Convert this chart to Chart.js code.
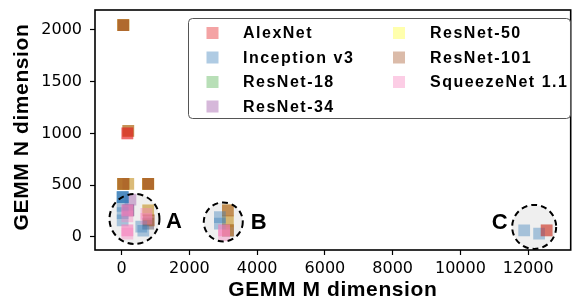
<!DOCTYPE html>
<html><head><meta charset="utf-8">
<script src="https://cdn.jsdelivr.net/npm/chart.js@4.4.1/dist/chart.umd.min.js"></script>
<style>html,body{margin:0;padding:0;background:#fff}#wrap{width:579px;height:304px}</style>
</head><body><div id="wrap"><canvas id="c" width="579" height="304"></canvas></div>
<script>
// ---------- data ----------
const networks = ['AlexNet','Inception v3','ResNet-18','ResNet-34','ResNet-50','ResNet-101','SqueezeNet 1.1'];
const xTicks = [0,2000,4000,6000,8000,10000,12000];
const yTicks = [0,500,1000,1500,2000];

const alexnetM = [169,169,12544];
const alexnetN = [1000,1000,64];

const inceptionM = [30,30,30,30,30,30,30,580,640,2900,2900,11881,12321];
const inceptionN = [384,384,384,384,300,230,160,100,60,192,128,64,32];

const resnet18M = [49,49,196,784,3136,3136];
const resnet18N = [512,512,256,128,64,64];

const resnet34M = [49,49,49,196,196,260,784,3136,3136,3136];
const resnet34N = [512,512,512,256,256,360,128,64,64,64];

const resnet50M = [49,49,49,196,196,49,49,49,784,784,784,784,784,3136,3136,3136];
const resnet50N = [2048,2048,2048,1024,512,512,512,512,512,512,512,512,256,256,150,64];

const resnet101M = [49,49,49,49,196,196,196,49,49,49,784,784,784,784,784,800,800,3136,3136,3136,3136,12544];
const resnet101N = [2048,2048,2048,2048,1024,1024,512,512,512,512,512,512,512,512,256,160,160,256,256,150,64,64];

const squeezeM = [169,169,169,169,169,169,729,729,3025,3025,3025];
const squeezeN = [256,256,200,64,64,32,224,176,64,64,16];

// circled regions (data coords) and labels
const regionNames = ['A','B','C'];
const regionX = [379,3000,12176];
const regionY = [174,145,97];
const labelX = [1544,4049,11156];
const labelY = [145,135,135];

// ---------- styling ----------
const baseColors = ['#e41a1c','#377eb8','#4daf4a','#984ea3','#ffff33','#a65628','#f781bf'];
const drawOrder = [0,2,6,5,4,3,1];
const regionR = [25,19.5,22];
const alpha = 0.4;
function rgba(hex,a){const n=parseInt(hex.slice(1),16);return `rgba(${n>>16},${(n>>8)&255},${n&255},${a})`;}
function pts(M,N){return M.map((m,i)=>({x:m,y:N[i]}));}
const seriesM = [alexnetM,inceptionM,resnet18M,resnet34M,resnet50M,resnet101M,squeezeM];
const seriesN = [alexnetN,inceptionN,resnet18N,resnet34N,resnet50N,resnet101N,squeezeN];

const overlay = {
  id:'overlay',
  beforeDatasetsDraw(chart){
    const {ctx,scales:{x,y}} = chart;
    ctx.save();
    ctx.fillStyle = '#efefef';
    regionNames.forEach((_,i)=>{
      ctx.beginPath();
      ctx.arc(x.getPixelForValue(regionX[i]),y.getPixelForValue(regionY[i]),regionR[i],0,Math.PI*2);
      ctx.fill();
    });
    ctx.restore();
  },
  afterDatasetsDraw(chart){
    const {ctx,scales:{x,y}} = chart;
    ctx.save();
    ctx.strokeStyle = '#000'; ctx.lineWidth = 2; ctx.setLineDash([6,4]);
    regionNames.forEach((_,i)=>{
      ctx.beginPath();
      ctx.arc(x.getPixelForValue(regionX[i]),y.getPixelForValue(regionY[i]),regionR[i],0,Math.PI*2);
      ctx.stroke();
    });
    ctx.setLineDash([]);
    ctx.fillStyle = '#000';
    ctx.font = 'bold 22px "Liberation Sans", Arial, sans-serif';
    ctx.textAlign = 'center'; ctx.textBaseline = 'middle';
    regionNames.forEach((t,i)=>{
      ctx.fillText(t,x.getPixelForValue(labelX[i]),y.getPixelForValue(labelY[i]));
    });
    ctx.restore();
  },
  afterDraw(chart){
    const {ctx,chartArea:a} = chart;
    ctx.save();
    ctx.strokeStyle = '#000'; ctx.lineWidth = 1.6;
    ctx.strokeRect(a.left,a.top,a.right-a.left,a.bottom-a.top);
    ctx.fillStyle = '#000';
    ctx.font = 'bold 21px "Liberation Sans", Arial, sans-serif';
    ctx.letterSpacing = '0.6px';
    ctx.textAlign = 'center'; ctx.textBaseline = 'middle';
    ctx.fillText('GEMM M dimension',(a.left+a.right)/2,290);
    ctx.save();
    ctx.translate(22,(a.top+a.bottom)/2-3);
    ctx.rotate(-Math.PI/2);
    ctx.fillText('GEMM N dimension',0,0);
    ctx.restore();
    const lx=188.5, ly=18.5, lw=382, lh=100, r=4;
    ctx.beginPath();
    ctx.moveTo(lx+r,ly); ctx.lineTo(lx+lw-r,ly); ctx.quadraticCurveTo(lx+lw,ly,lx+lw,ly+r);
    ctx.lineTo(lx+lw,ly+lh-r); ctx.quadraticCurveTo(lx+lw,ly+lh,lx+lw-r,ly+lh);
    ctx.lineTo(lx+r,ly+lh); ctx.quadraticCurveTo(lx,ly+lh,lx,ly+lh-r);
    ctx.lineTo(lx,ly+r); ctx.quadraticCurveTo(lx,ly,lx+r,ly); ctx.closePath();
    ctx.fillStyle='rgba(255,255,255,0.85)'; ctx.fill();
    ctx.strokeStyle='#555'; ctx.lineWidth=1; ctx.stroke();
    ctx.font = 'bold 16px "Liberation Sans", Arial, sans-serif';
    ctx.letterSpacing = '1.5px';
    ctx.textAlign='left'; ctx.textBaseline='middle';
    const colSw=[212.5,399], colTx=[243,430], rowY=[33,57.5,82,106.5];
    networks.forEach((name,i)=>{
      const c = i<4?0:1, rr = i<4?i:i-4;
      ctx.fillStyle = rgba(baseColors[i],alpha);
      ctx.fillRect(colSw[c]-6,rowY[rr]-6,12,12);
      ctx.fillStyle = '#000';
      ctx.fillText(name,colTx[c],rowY[rr]+1);
    });
    ctx.letterSpacing = '0px';
    ctx.restore();
  }
};

function noPad(s){s.paddingTop=0;s.paddingBottom=0;s.paddingLeft=0;s.paddingRight=0;}

new Chart(document.getElementById('c'),{
  type:'scatter',
  data:{datasets:networks.map((name,i)=>({
    label:name,
    data:pts(seriesM[i],seriesN[i]),
    backgroundColor:rgba(baseColors[i],alpha),
    borderWidth:0,
    pointStyle:'rect',
    pointRadius:8.3,
    pointHoverRadius:8.3,
    order:drawOrder[i]
  }))},
  options:{
    responsive:false, animation:false, events:[],
    devicePixelRatio:1,
    layout:{padding:{top:10,right:2,left:0,bottom:0}},
    plugins:{legend:{display:false},tooltip:{enabled:false}},
    scales:{
      x:{type:'linear',min:-786,max:13254,
        afterBuildTicks:s=>{s.ticks=xTicks.map(v=>({value:v}));},
        afterFit:s=>{s.height=54;noPad(s);},
        grid:{drawOnChartArea:false,drawTicks:true,tickLength:5,color:'#000',tickWidth:1.2},
        border:{display:false},
        ticks:{color:'#000',font:{family:'DejaVu Sans',size:16},padding:4,maxRotation:0,autoSkip:false,callback:v=>String(v)}
      },
      y:{type:'linear',min:-126,max:2193,
        afterBuildTicks:s=>{s.ticks=yTicks.map(v=>({value:v}));},
        afterFit:s=>{s.width=95;noPad(s);},
        grid:{drawOnChartArea:false,drawTicks:true,tickLength:5,color:'#000',tickWidth:1.2},
        border:{display:false},
        ticks:{color:'#000',font:{family:'DejaVu Sans',size:16},padding:8,autoSkip:false,callback:v=>String(v)}
      }
    }
  },
  plugins:[overlay]
});
</script></body></html>
